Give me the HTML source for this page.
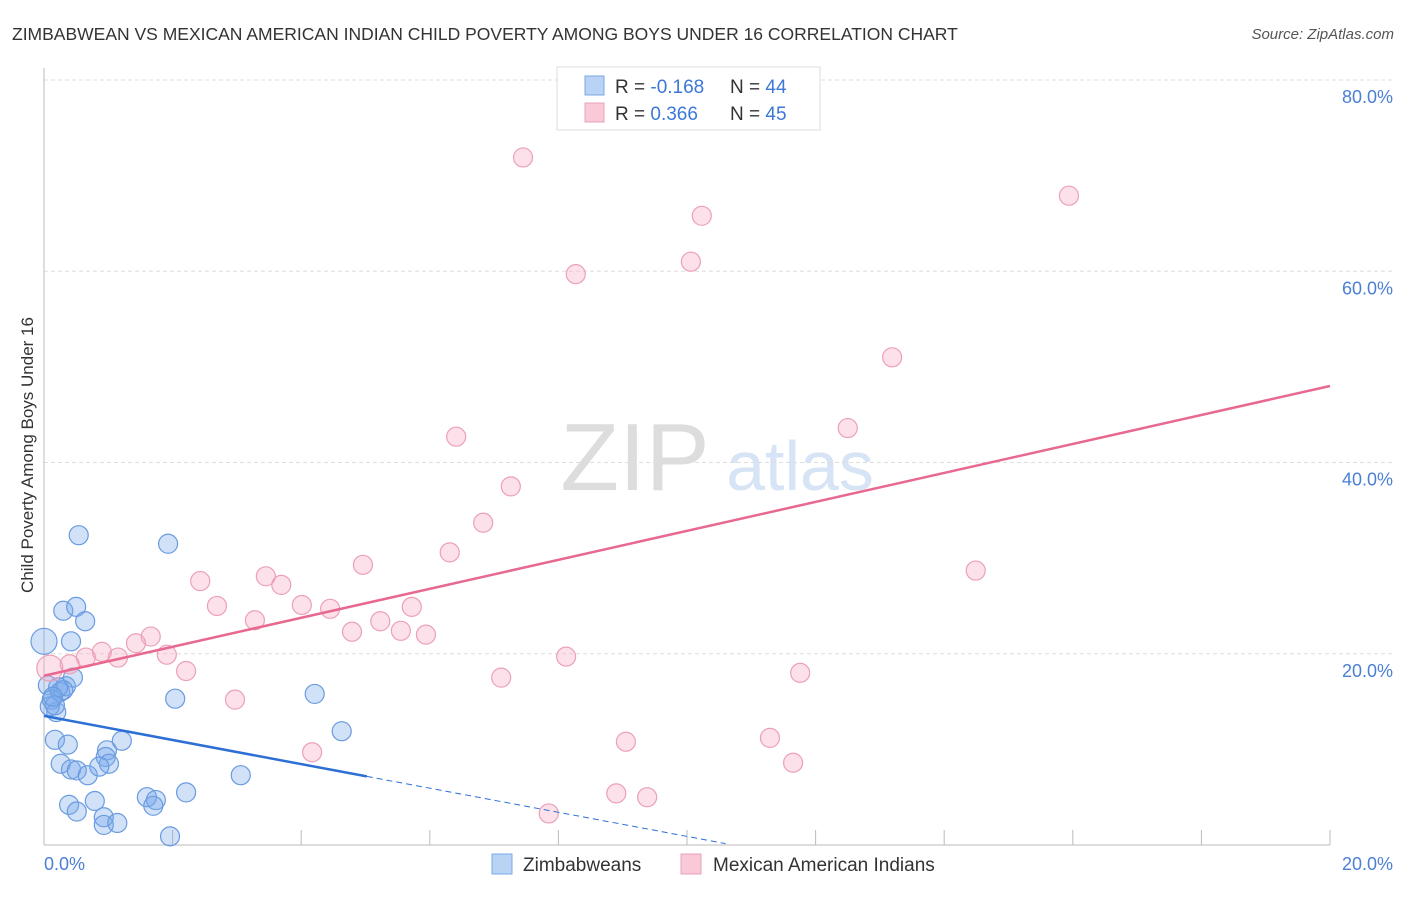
<!DOCTYPE html>
<html><head><meta charset="utf-8"><style>
body{margin:0;background:#fff;font-family:"Liberation Sans",sans-serif;}
svg text{font-family:"Liberation Sans",sans-serif;}
</style></head><body>
<svg id="c" width="1406" height="892">
<text x="12" y="40" font-size="17.5" fill="#333">ZIMBABWEAN VS MEXICAN AMERICAN INDIAN CHILD POVERTY AMONG BOYS UNDER 16 CORRELATION CHART</text>
<text x="1394" y="39" font-size="15" fill="#555" font-style="italic" text-anchor="end">Source: ZipAtlas.com</text>
<text x="0" y="0" transform="translate(33,455) rotate(-90)" font-size="17" fill="#333" text-anchor="middle">Child Poverty Among Boys Under 16</text>
<text x="635" y="490" font-size="96" fill="#ddd" font-family="Liberation Serif" text-anchor="middle">ZIP</text>
<text x="800" y="490" font-size="70" fill="#d6e4f5" text-anchor="middle">atlas</text>
<g id="grid"></g><g id="marks"></g>
<g>
<rect x="557" y="67" width="263" height="63" fill="#fff" stroke="#ddd"/>
<rect x="585" y="76" width="19" height="19" fill="#b9d3f5" stroke="#7aa7e6"/>
<rect x="585" y="103" width="19" height="19" fill="#f9c9d8" stroke="#eca0b8"/>
<text x="615" y="93" font-size="19" fill="#333">R = <tspan fill="#3b78d8">-0.168</tspan></text>
<text x="730" y="93" font-size="19" fill="#333">N = <tspan fill="#3b78d8">44</tspan></text>
<text x="615" y="120" font-size="19" fill="#333">R = <tspan fill="#3b78d8"> 0.366</tspan></text>
<text x="730" y="120" font-size="19" fill="#333">N = <tspan fill="#3b78d8">45</tspan></text>
</g>
<g>
<rect x="492" y="854" width="20" height="20" fill="#b9d3f5" stroke="#7aa7e6"/>
<text x="523" y="871" font-size="19" fill="#333">Zimbabweans</text>
<rect x="681" y="854" width="20" height="20" fill="#f9c9d8" stroke="#eca0b8"/>
<text x="713" y="871" font-size="19" fill="#333">Mexican American Indians</text>
</g>
</svg>
<script>
const blueX=[0,0.54,1.93,0.30,0.50,0.64,0.42,0.06,0.25,0.34,0.45,0.12,0.19,0.09,0.17,2.04,4.21,4.63,0.17,0.37,0.98,1.21,0.96,1.01,0.26,0.42,0.51,0.68,0.86,3.06,0.39,0.51,0.79,0.93,0.93,1.14,1.60,1.74,1.70,2.21,1.96,0.30,0.22,0.14];
const blueY=[21.3,32.4,31.5,24.5,24.9,23.4,21.3,16.7,16.0,16.6,17.5,15.2,13.9,14.5,14.6,15.3,15.8,11.9,11.0,10.5,9.9,10.9,9.2,8.5,8.5,7.9,7.8,7.3,8.2,7.3,4.2,3.5,4.6,2.9,2.1,2.3,5.0,4.7,4.1,5.5,0.9,16.2,16.5,15.5];
const pinkX=[7.45,10.23,15.94,8.27,10.06,13.19,6.41,12.50,7.26,6.83,6.31,4.96,14.49,3.45,2.43,3.69,2.69,4.01,4.45,5.72,5.23,3.28,4.79,5.55,5.94,1.66,1.43,0.90,1.15,0.65,1.91,0.40,0.09,2.21,8.12,7.11,11.76,2.97,4.17,9.05,11.29,11.65,8.90,9.38,7.85];
const pinkY=[71.9,65.8,67.9,59.7,61.0,51.0,42.7,43.6,37.5,33.7,30.6,29.3,28.7,28.1,27.6,27.2,25.0,25.1,24.7,24.9,23.4,23.5,22.3,22.4,22.0,21.8,21.1,20.2,19.6,19.6,19.9,18.9,18.5,18.2,19.7,17.5,18.0,15.2,9.7,10.8,11.2,8.6,5.4,5.0,3.3];
const yTicks=[20,40,60,80];
const yTickLabels=["20.0%","40.0%","60.0%","80.0%"];
const blueTrend=[13.5,-1.26];
const pinkTrend=[17.7,1.515];
const NS="http://www.w3.org/2000/svg";
const sx=v=>44+v*64.3, sy=v=>845-v*9.5625;
function mk(t,a,p){const e=document.createElementNS(NS,t);for(const k in a)e.setAttribute(k,a[k]);p.appendChild(e);return e;}
const g=document.getElementById('grid'),m=document.getElementById('marks');
yTicks.forEach((t,i)=>{
 const l=mk('line',{x1:44,x2:1394,y1:sy(t),y2:sy(t),stroke:'#ddd','stroke-dasharray':'4,3'},g);
 
 
 const tx=mk('text',{x:1393,y:sy(t)+23,'font-size':18,fill:'#4a7fd4','text-anchor':'end'},g);
 tx.textContent=yTickLabels[i];
 
 
});
mk('line',{x1:44,x2:44,y1:68,y2:845,stroke:'#bbb'},g);
mk('line',{x1:44,x2:1330,y1:845,y2:845,stroke:'#bbb'},g);
for(let i=1;i<=10;i++){const l=mk('line',{x1:sx(i*2),x2:sx(i*2),y1:830,y2:845,stroke:'#bbb'},g);
 
 }
let t0=mk('text',{x:44,y:870,'font-size':18,fill:'#4a7fd4'},g);t0.textContent='0.0%';


let t1=mk('text',{x:1393,y:870,'font-size':18,fill:'#4a7fd4','text-anchor':'end'},g);t1.textContent='20.0%';


blueX.forEach((x,i)=>{const c=mk('circle',{cx:sx(x),cy:sy(blueY[i]),r:(i==0?13:9.5),fill:'rgba(120,170,235,0.35)',stroke:'#6a9be0','stroke-width':1.2},m);
 
 });
pinkX.forEach((x,i)=>{const c=mk('circle',{cx:sx(x),cy:sy(pinkY[i]),r:(i==32?13:9.5),fill:'rgba(245,170,195,0.35)',stroke:'#eca0b8','stroke-width':1.2},m);
 
 });
const bl=mk('line',{x1:sx(0),y1:sy(blueTrend[0]),x2:sx(5.02),y2:sy(blueTrend[0]+blueTrend[1]*5.02),stroke:'#2e6fd6','stroke-width':2.5},m);


const bd=mk('line',{x1:sx(5.02),y1:sy(blueTrend[0]+blueTrend[1]*5.02),x2:sx(10.6),y2:sy(blueTrend[0]+blueTrend[1]*10.6),stroke:'#2e6fd6','stroke-width':1,'stroke-dasharray':'6,4'},m);


const pl=mk('line',{x1:sx(0),y1:sy(pinkTrend[0]),x2:sx(20),y2:sy(pinkTrend[0]+pinkTrend[1]*20),stroke:'#e8688f','stroke-width':2.5},m);


</script>
</body></html>
